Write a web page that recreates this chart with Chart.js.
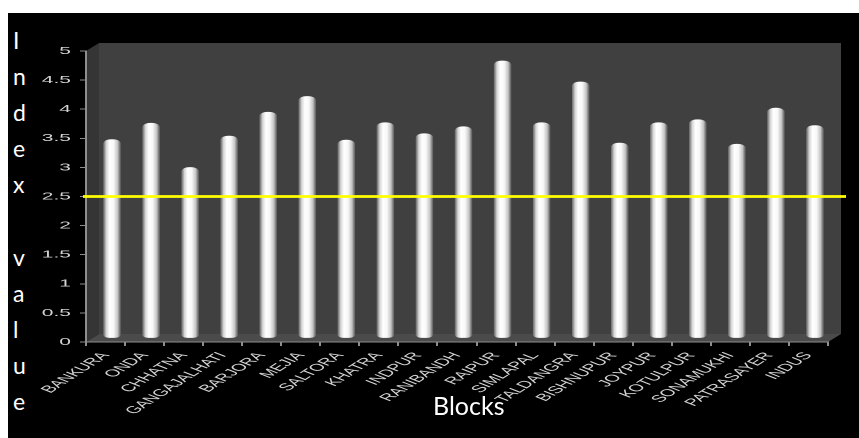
<!DOCTYPE html>
<html>
<head>
<meta charset="utf-8">
<script src="https://cdn.jsdelivr.net/npm/chart.js@4.4.1/dist/chart.umd.min.js"></script>
<style>
  html, body { margin: 0; padding: 0; background: #ffffff; }
  #panel { position: absolute; left: 8px; top: 13px; width: 851px; height: 425px; background: #000000; overflow: hidden; }
  #plot { position: absolute; left: 21px; top: 0; width: 415px; height: 425px; transform: scaleX(2); transform-origin: 0 0; }
  #ylab { position: absolute; left: 5px; top: 9px; margin: 0; white-space: pre; color: #ffffff;
          font: 23px/36.1px Lato, "Open Sans", sans-serif; }
  #xlab { position: absolute; left: 425px; top: 377px; margin: 0; color: #ffffff;
          font: 25px/30px Lato, "Open Sans", sans-serif; }
</style>
</head>
<body>
<div id="panel">
  <div id="plot"><canvas id="c" width="415" height="425"></canvas></div>
  <div id="ylab">I
n
d
e
x

v
a
l
u
e</div>
  <div id="xlab">Blocks</div>
</div>
<script>
// Development index of the blocks
const blocks = ['BANKURA', 'ONDA', 'CHHATNA', 'GANGAJALHATI', 'BARJORA', 'MEJIA', 'SALTORA',
  'KHATRA', 'INDPUR', 'RANIBANDH', 'RAIPUR', 'SIMLAPAL', 'TALDANGRA', 'BISHNUPUR',
  'JOYPUR', 'KOTULPUR', 'SONAMUKHI', 'PATRASAYER', 'INDUS'];
const indexValues = [3.41, 3.69, 2.93, 3.47, 3.88, 4.15, 3.40, 3.70, 3.51, 3.63,
  4.76, 3.70, 4.40, 3.35, 3.70, 3.75, 3.33, 3.95, 3.65];
const yMin = 0;
const yMax = 5;
const yStep = 0.5;
const threshold = 2.5;

// geometry of the pseudo-3D box (canvas units)
const DEPTH_X = 6.5;
const DEPTH_Y = -8;
const BAR_W = 8;

Chart.defaults.font.family = "'Liberation Sans', Arial, sans-serif";

function poly(ctx, color, pts) {
  ctx.fillStyle = color;
  ctx.beginPath();
  ctx.moveTo(pts[0][0], pts[0][1]);
  for (let i = 1; i < pts.length; i++) ctx.lineTo(pts[i][0], pts[i][1]);
  ctx.closePath();
  ctx.fill();
}

// back wall, side wall and floor behind the plot
const box3d = {
  id: 'box3d',
  beforeDraw(chart) {
    const { ctx, chartArea: a } = chart;
    ctx.save();
    ctx.fillStyle = '#404040';
    ctx.fillRect(a.left + DEPTH_X, a.top + DEPTH_Y, a.right - a.left, a.bottom - a.top);
    poly(ctx, '#353535', [[a.left, a.top], [a.left + DEPTH_X, a.top + DEPTH_Y],
      [a.left + DEPTH_X, a.bottom + DEPTH_Y], [a.left, a.bottom]]);
    poly(ctx, '#4b4b4b', [[a.left, a.bottom], [a.left + DEPTH_X, a.bottom + DEPTH_Y],
      [a.right + DEPTH_X, a.bottom + DEPTH_Y], [a.right, a.bottom]]);
    ctx.restore();
  },
  // bars stand in the middle of the box depth
  beforeDatasetsDraw(chart) {
    chart.ctx.save();
    chart.ctx.translate(DEPTH_X / 2, DEPTH_Y / 2);
  },
  afterDatasetsDraw(chart) {
    const { ctx, chartArea: a } = chart;
    ctx.restore();
    // threshold line
    const y = chart.scales.y.getPixelForValue(threshold);
    ctx.save();
    ctx.strokeStyle = '#ffff00';
    ctx.lineWidth = 2.8;
    ctx.beginPath();
    ctx.moveTo(a.left - 1.5, y);
    ctx.lineTo(a.right + 9, y);
    ctx.stroke();
    ctx.restore();
  }
};

function cylinderFill(c) {
  const chart = c.chart;
  const xs = chart.scales.x;
  if (!xs || c.dataIndex === undefined) return '#f0f0f0';
  const cx = xs.getPixelForValue(c.dataIndex);
  if (!Number.isFinite(cx)) return '#f0f0f0';
  const g = chart.ctx.createLinearGradient(cx - BAR_W / 2, 0, cx + BAR_W / 2, 0);
  g.addColorStop(0, '#7c7c7c');
  g.addColorStop(0.15, '#d6d6d6');
  g.addColorStop(0.35, '#ffffff');
  g.addColorStop(0.6, '#f8f8f8');
  g.addColorStop(0.85, '#c4c4c4');
  g.addColorStop(1, '#6e6e6e');
  return g;
}

const axisGray = '#8e8e8e';

new Chart(document.getElementById('c'), {
  type: 'bar',
  data: {
    labels: blocks,
    datasets: [{
      data: indexValues,
      backgroundColor: cylinderFill,
      borderWidth: 0,
      borderSkipped: false,
      borderRadius: { topLeft: 4, topRight: 4, bottomLeft: 3, bottomRight: 3 },
      barThickness: BAR_W
    }]
  },
  options: {
    responsive: false,
    devicePixelRatio: 2,
    animation: false,
    events: [],
    layout: { padding: { top: 38, right: 15.5, bottom: 0, left: 0 } },
    plugins: { legend: { display: false }, tooltip: { enabled: false } },
    scales: {
      x: {
        grid: { drawOnChartArea: false, offset: true, tickLength: 4, color: axisGray },
        border: { color: axisGray, width: 1 },
        ticks: { color: '#d4d4d4', font: { size: 10 }, minRotation: 52, maxRotation: 52,
                 autoSkip: false, padding: 4 },
        afterFit(scale) { scale.height = 96; scale.paddingLeft = 0; scale.paddingRight = 0; }
      },
      y: {
        min: yMin,
        max: yMax,
        grid: { drawOnChartArea: false, tickLength: 3, color: axisGray },
        border: { color: axisGray, width: 1 },
        ticks: {
          stepSize: yStep, color: '#d4d4d4', font: { size: 10.5 }, padding: 4.5,
          callback: (v) => String(Math.round(v * 10) / 10)
        },
        afterFit(scale) { scale.width = 28.5; }
      }
    }
  },
  plugins: [box3d]
});
</script>
</body>
</html>
